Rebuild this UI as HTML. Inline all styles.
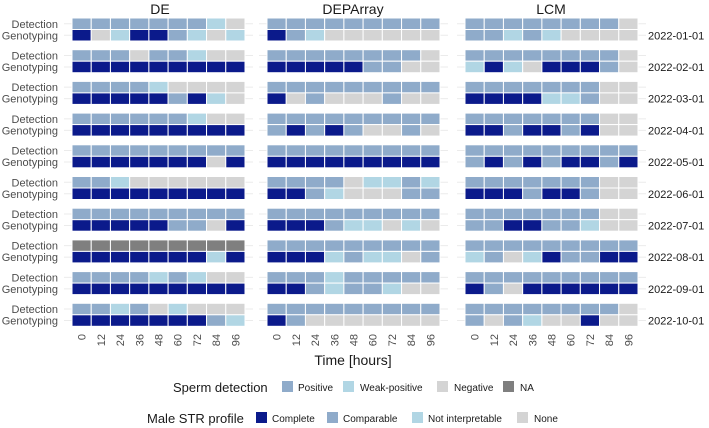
<!DOCTYPE html>
<html><head><meta charset="utf-8"><style>
body{margin:0;background:#fff;}
svg{display:block;font-family:"Liberation Sans",Arial,sans-serif;}
</style></head><body>
<svg id="chart" width="709" height="428" viewBox="0 0 709 428">
<g id="grid"></g><g id="cells"></g><g id="labels"></g>
<text x="160" y="14" font-size="14" text-anchor="middle" fill="#1a1a1a">DE</text>
<text x="353" y="14" font-size="14" text-anchor="middle" fill="#1a1a1a">DEPArray</text>
<text x="551" y="14" font-size="14" text-anchor="middle" fill="#1a1a1a">LCM</text>
<text x="353" y="365" font-size="14" text-anchor="middle" fill="#1a1a1a">Time [hours]</text>
<g font-size="10" fill="#1a1a1a">
<text x="173" y="392" font-size="13">Sperm detection</text>
<rect x="282" y="381" width="11" height="11" fill="#8fabca"/><text x="298" y="391">Positive</text>
<rect x="343" y="381" width="11" height="11" fill="#b1d6e4"/><text x="360" y="391">Weak-positive</text>
<rect x="437" y="381" width="11" height="11" fill="#d4d4d4"/><text x="454" y="391">Negative</text>
<rect x="503" y="381" width="11" height="11" fill="#7f7f7f"/><text x="520" y="391">NA</text>
</g>
<g font-size="10" fill="#1a1a1a">
<text x="147" y="423" font-size="13">Male STR profile</text>
<rect x="256" y="412" width="11" height="11" fill="#0b1a8b"/><text x="272" y="422">Complete</text>
<rect x="327" y="412" width="11" height="11" fill="#8fabca"/><text x="343" y="422">Comparable</text>
<rect x="412" y="412" width="11" height="11" fill="#b1d6e4"/><text x="428" y="422">Not interpretable</text>
<rect x="517" y="412" width="11" height="11" fill="#d4d4d4"/><text x="534" y="422">None</text>
</g>
</svg>
<script>
const times = ["0","12","24","36","48","60","72","84","96"];
const dates = ["2022-01-01","2022-02-01","2022-03-01","2022-04-01","2022-05-01","2022-06-01","2022-07-01","2022-08-01","2022-09-01","2022-10-01"];
const methods = ["DE","DEPArray","LCM"];
// Detection: P positive, W weak-positive, N negative, A NA
const deDetection = ["PPPPPPPWN","PPPNPPWNN","PPPPWNNNN","PPPPPPWNN","PPPPPPPPP","PPWNNNNNN","PPPPPPPPP","AAAAAAAAA","PPPPWPWNN","PPWPNWNNN"];
// Genotyping: C complete, M comparable, I not interpretable, O none
const deGenotyping = ["COICCMIOI","CCCCCCCCC","CCCCCMCIO","CCCCCCCCC","CCCCCCCOC","CCCCCCCCC","CCCCCMMOC","CCCCCCCIC","CCCCCCCCC","CCCCCCCMI"];
const depDetection = ["PPPPPPPPP","PPPPPPPPN","PPPPPPPPP","PPPPPPPPP","PPPPPPPPP","PPPPNWWPW","PPPPPPPPP","PPPPPPPPP","PPPWPPPPP","PPPPPPPPP"];
const depGenotyping = ["CMIOOOOOO","CCCCCMMOO","COMOOOMOO","MCMCMOOMO","CCCCCCCCC","CCMIOOOMM","CCCMIIOIO","CCCIMIIOM","CCMIMMIOO","CMOOOOOOO"];
const lcmDetection = ["PPPPPPPPN","PPPPPPPPN","PPPPPPPNN","PPPPPPPNN","PPPPPPPPP","PPPPPPPNN","PPPPPPPNN","PPPPPPPPP","PPPPPPPPP","PPPPPPPPN"];
const lcmGenotyping = ["MMIMIOOOO","ICIOCCCMO","CCCCIIMOO","CCMCCMCOO","MCMCMCCMC","CCCMCCMOO","MMCCMMIOO","IMOICMMCC","CMOCCCCCC","MOMIOOCOO"];

const detColor = {P:"#8fabca",W:"#b1d6e4",N:"#d4d4d4",A:"#7f7f7f"};
const genColor = {C:"#0b1a8b",M:"#8fabca",I:"#b1d6e4",O:"#d4d4d4"};
const panelX0 = [72,267,465];
const cellW = 173/9, cellH = 11.5, pitch = 31.7, top0 = 18;
const xPos = (p,t)=>panelX0[p]+t*cellW;
const yPos = (f,r)=>top0+f*pitch+r*cellH;
const NS="http://www.w3.org/2000/svg";
const cellsG=document.getElementById('cells'), gridG=document.getElementById('grid'), labG=document.getElementById('labels');
const det=[deDetection,depDetection,lcmDetection], gen=[deGenotyping,depGenotyping,lcmGenotyping];
function mk(tag,attrs,parent){const e=document.createElementNS(NS,tag);for(const k in attrs)e.setAttribute(k,attrs[k]);parent.appendChild(e);return e;}
for(let p=0;p<3;p++){
  for(let f=0;f<dates.length;f++){
    for(let r=0;r<2;r++){
      const yc=yPos(f,r)+cellH/2;
      const gl=mk('line',{x1:panelX0[p]-8,x2:panelX0[p]+173+8,y1:yc,y2:yc,stroke:"#ebebeb","stroke-width":1},gridG);
      
      
    }
    for(let t=0;t<times.length;t++){
      const d=mk('rect',{x:xPos(p,t),y:yPos(f,0),width:cellW,height:cellH,fill:detColor[det[p][f][t]],stroke:"#fff","stroke-width":1},cellsG);
      
      
      const g=mk('rect',{x:xPos(p,t),y:yPos(f,1),width:cellW,height:cellH,fill:genColor[gen[p][f][t]],stroke:"#fff","stroke-width":1},cellsG);
      
      
    }
  }
  for(let t=0;t<times.length;t++){
    const x=xPos(p,t)+cellW/2+4, y=334;
    const tl=mk('text',{x:x,y:y,"font-size":11,fill:"#4d4d4d","text-anchor":"end",transform:`rotate(-90 ${x} ${y})`},labG);
    tl.textContent=times[t];
    
    
  }
}
for(let f=0;f<dates.length;f++){
  const a=mk('text',{x:58,y:yPos(f,0)+cellH/2+4,"font-size":11,fill:"#4d4d4d","text-anchor":"end"},labG);
  a.textContent="Detection";
  
  
  const b=mk('text',{x:58,y:yPos(f,1)+cellH/2+4,"font-size":11,fill:"#4d4d4d","text-anchor":"end"},labG);
  b.textContent="Genotyping";
  
  
  const s=mk('text',{x:648,y:yPos(f,1)+cellH/2+4,"font-size":11,fill:"#1a1a1a"},labG);
  s.textContent=dates[f];
  
  
}
</script>
</body></html>
